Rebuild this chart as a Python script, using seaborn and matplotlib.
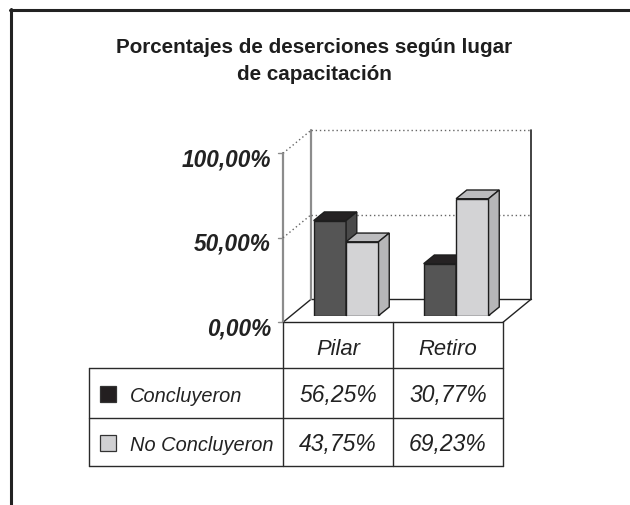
import matplotlib
matplotlib.use("Agg")
import matplotlib.pyplot as plt
import seaborn as sns
import pandas as pd
import numpy as np
from matplotlib.patches import Polygon, Rectangle
from matplotlib.lines import Line2D

# ---------------- data ----------------
title_line1 = "Porcentajes de deserciones según lugar"
title_line2 = "de capacitación"
lugares = ["Pilar", "Retiro"]
series = ["Concluyeron", "No Concluyeron"]
concluyeron = [56.25, 30.77]
no_concluyeron = [43.75, 69.23]
y_ticks = [0, 50, 100]
y_tick_labels = ["0,00%", "50,00%", "100,00%"]

# ---------------- style ----------------
W, H = 630, 506
sns.set_theme(style="white")
plt.rcParams["font.family"] = ["Liberation Sans", "DejaVu Sans"]

front_cols = ["#555555", "#d3d3d5"]
top_cols = ["#252223", "#bcbcbe"]
side_cols = ["#4a4a4a", "#b6b6b8"]
key_cols = ["#231f20", "#d0d0d2"]
edge = "#1e1e1e"

fig = plt.figure(figsize=(W / 100, H / 100), dpi=100)
fig.patch.set_facecolor("white")

# bar front plane (pixel coords from top-left)
x_left, x_right = 291.1, 511.1
y_zero, y_top = 316.7, 147.7
ax = fig.add_axes([x_left / W, 1 - y_zero / H, (x_right - x_left) / W, (y_zero - y_top) / H])

df = pd.DataFrame({
    "lugar": lugares * 2,
    "serie": [series[0]] * len(lugares) + [series[1]] * len(lugares),
    "pct": concluyeron + no_concluyeron,
})
sns.barplot(data=df, x="lugar", y="pct", hue="serie", palette=front_cols,
            saturation=1, width=0.59, edgecolor=edge, linewidth=1.0,
            ax=ax, legend=False)
ax.set_xlim(-0.5, 1.5)
ax.set_ylim(0, 100)
ax.axis("off")

FRONT = np.array([-8.1, -6.6])   # display-pixel offset of wall front plane
BACK = np.array([19.9, 16.4])    # display-pixel offset of back wall
BAR_D = np.array([10.7, 8.7])    # bar depth


def P(xd, yd, off=(0, 0)):
    d = ax.transData.transform((xd, yd)) + np.asarray(off)
    return d / np.array([W, H])


def F(xp, yp):
    return (xp / W, 1 - yp / H)


def line(p0, p1, **kw):
    ax.add_line(Line2D([p0[0], p1[0]], [p0[1], p1[1]], transform=fig.transFigure,
                       clip_on=False, **kw))

# ---------------- walls / floor ----------------
grey = "#8c8c8c"
F0, F1 = P(-0.5, 0, FRONT), P(1.5, 0, FRONT)
B0, B1 = P(-0.5, 0, BACK), P(1.5, 0, BACK)
wall_kw = dict(zorder=0.5)
line(F0, F1, color="#222222", lw=1.0, **wall_kw)
line(F1, B1, color="#222222", lw=1.0, **wall_kw)
line(B0, B1, color="#222222", lw=1.0, **wall_kw)
line(F0, B0, color="#222222", lw=1.0, **wall_kw)
line(B0, P(-0.5, 100, BACK), color=grey, lw=1.6, **wall_kw)
line(B1, P(1.5, 100, BACK), color="#222222", lw=1.2, **wall_kw)
line(F0, P(-0.5, 100, FRONT), color=grey, lw=1.6, **wall_kw)
for v in y_ticks[1:]:
    line(P(-0.5, v, BACK), P(1.5, v, BACK), color="#666666", lw=1.0,
         ls=(0, (1, 2)), **wall_kw)
    line(P(-0.5, v, FRONT), P(-0.5, v, BACK), color="#666666", lw=1.0,
         ls=(0, (1, 2)), **wall_kw)
for v, lab in zip(y_ticks, y_tick_labels):
    p = P(-0.5, v, FRONT)
    line(p, p - np.array([5 / W, 0]), color=grey, lw=1.0, **wall_kw)
    ax.text(p[0] - 12 / W, p[1] - 12 / H, lab, transform=fig.transFigure,
            ha="right", va="baseline", fontsize=16.3, fontweight="bold",
            fontstyle="italic", color="#222222")

# ---------------- 3D bar faces ----------------
n = len(lugares)
for i, bar in enumerate(ax.patches):
    s = i // n
    bar.set_zorder(2 + 2 * s)
    x0, y0 = bar.get_x(), bar.get_y()
    x1, y1 = x0 + bar.get_width(), y0 + bar.get_height()
    d = BAR_D / np.array([W, H])
    a, b = P(x0, y1), P(x1, y1)
    c = P(x1, y0)
    top = Polygon([a, b, b + d, a + d], closed=True, transform=fig.transFigure,
                  facecolor=top_cols[s], edgecolor=edge, lw=1.0, clip_on=False,
                  zorder=3 + 2 * s)
    side = Polygon([c, b, b + d, c + d], closed=True, transform=fig.transFigure,
                   facecolor=side_cols[s], edgecolor=edge, lw=1.0, clip_on=False,
                   zorder=3 + 2 * s)
    ax.add_patch(top)
    ax.add_patch(side)

# ---------------- data table ----------------
tcol = "#2a2a2a"
xl, xc1, xc2, xr = 89, 283, 393, 503
yh, y1r, y2r, yb = 323, 369, 419, 467
tk = dict(color=tcol, lw=1.0, zorder=0.6)
for yy in (y1r, y2r, yb):
    line(F(xl, yy), F(xr, yy), **tk)
for xx in (xc1, xc2, xr):
    line(F(xx, yh), F(xx, yb), **tk)
line(F(xl, y1r), F(xl, yb), **tk)

col_centers = [338, 448]
for lab, cx in zip(lugares, col_centers):
    fig.text(cx / W, 1 - 355 / H, lab, ha="center", va="baseline",
             fontsize=15.8, fontstyle="italic", color="#222222")

rows = [concluyeron, no_concluyeron]
row_base = [402.5, 451.5]
for s, (name, vals, yb_) in enumerate(zip(series, rows, row_base)):
    ax.add_patch(Rectangle(F(100.5, yb_), 16 / W, 16 / H, transform=fig.transFigure,
                           facecolor=key_cols[s], edgecolor="#333333", lw=0.9,
                           clip_on=False))
    fig.text(130 / W, 1 - yb_ / H, name, ha="left", va="baseline",
             fontsize=14.4, fontstyle="italic", color="#222222")
    for v, cx in zip(vals, col_centers):
        txt = f"{v:.2f}".replace(".", ",") + "%"
        fig.text(cx / W, 1 - yb_ / H, txt, ha="center", va="baseline",
                 fontsize=16.5, fontstyle="italic", color="#222222")

# ---------------- title ----------------
fig.text(314.5 / W, 1 - 53.5 / H, title_line1, ha="center", va="baseline",
         fontsize=14.9, fontweight="bold", color="#1e1e1e")
fig.text(314.5 / W, 1 - 79.5 / H, title_line2, ha="center", va="baseline",
         fontsize=14.9, fontweight="bold", color="#1e1e1e")

# ---------------- outer frame ----------------
fig.add_artist(Line2D([10 / W, 1.0], [1 - 10.5 / H, 1 - 10.5 / H],
                      transform=fig.transFigure, color="#222222", lw=2.2))
fig.add_artist(Line2D([10.5 / W, 10.5 / W], [1 - 9.5 / H, 0],
                      transform=fig.transFigure, color="#222222", lw=2.2))

fig.savefig("out.png", dpi=100, facecolor="white")
